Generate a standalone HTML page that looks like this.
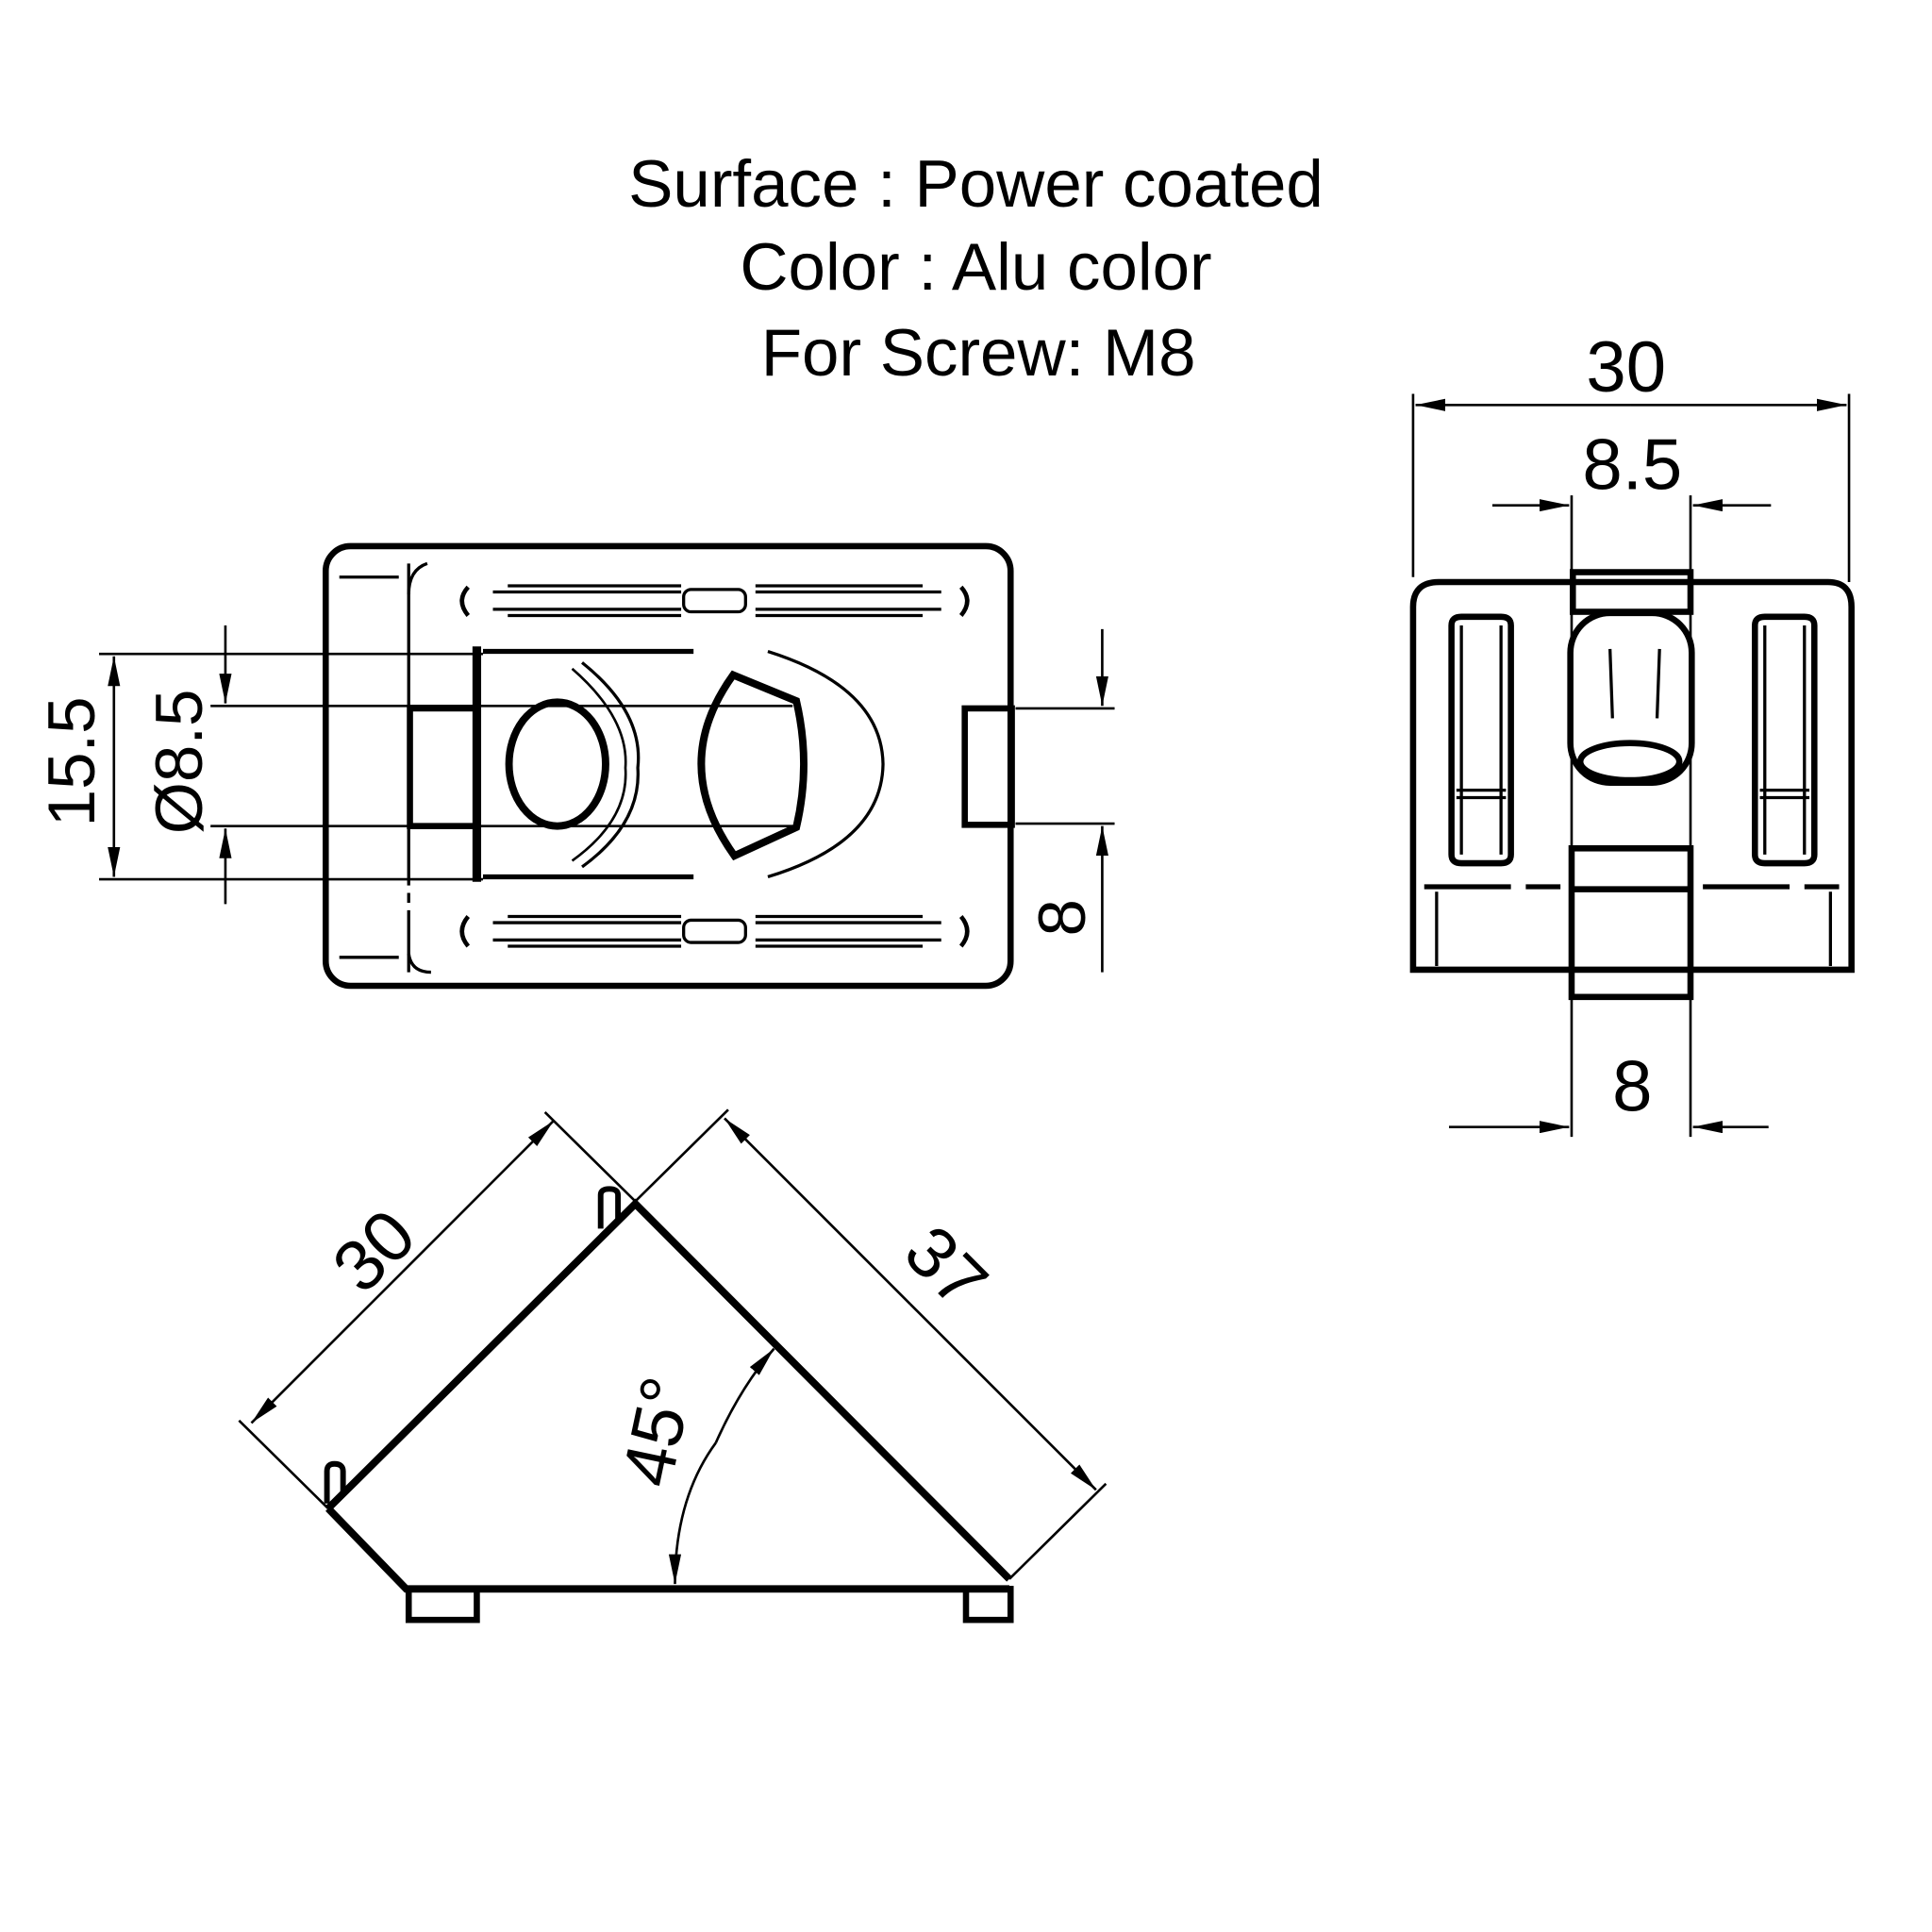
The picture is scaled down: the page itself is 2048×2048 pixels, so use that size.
<!DOCTYPE html>
<html><head><meta charset="utf-8"><style>
html,body{margin:0;padding:0;background:#fff;width:2048px;height:2048px;overflow:hidden}
svg{display:block}
text{font-family:"Liberation Sans",sans-serif;fill:#000}
</style></head><body>
<svg width="2048" height="2048" viewBox="0 0 1560 1560" xmlns="http://www.w3.org/2000/svg">
<defs>
<marker id="a" viewBox="0 0 24 10" refX="24" refY="5" markerWidth="24" markerHeight="10" markerUnits="userSpaceOnUse" orient="auto"><path d="M0,0 L24,5 L0,10 z" fill="#000"/></marker>
</defs>
<g text-anchor="middle" font-size="54">
<text x="788" y="167">Surface : Power coated</text>
<text x="788" y="234">Color : Alu color</text>
<text x="790" y="303">For Screw: M8</text>
</g>

<!-- TOP VIEW -->
<g fill="none" stroke="#000">
<rect x="263" y="441" width="553" height="355" rx="20" stroke-width="5"/>
<path d="M330,455 V785" stroke-width="2.5" stroke-dasharray="120 6 8 6"/>
<path d="M345,455 Q330,460 330,480 M330,770 Q332,785 348,785" stroke-width="2.5"/>
<path d="M274,466 H322 M274,773 H322" stroke-width="2.5"/>
<rect x="331" y="572" width="54" height="95" stroke-width="5"/>
<path d="M385,522 V712" stroke-width="7"/>
<ellipse cx="450" cy="617" rx="39" ry="50" stroke-width="6"/>
<path d="M470,535 Q520,575 515,620 Q518,665 470,700" stroke-width="2.5"/>
<path d="M462,540 Q508,580 505,620 Q508,662 462,695" stroke-width="2"/>
<path d="M592,545 L643,566 Q655,617 643,668 L593,691 Q540,617 592,545 z" stroke-width="6"/>
<path d="M620,526 Q712,555 713,617 Q712,680 620,708" stroke-width="2.5"/>
<path d="M390,526 H560 M390,708 H560" stroke-width="4"/>
<rect x="779" y="572" width="38" height="94" stroke-width="5"/>
<g stroke-width="2.5">
<path d="M398,478 H550 M398,492 H550 M410,473 H550 M410,497 H550 M610,478 H760 M610,492 H760 M610,473 H745 M610,497 H745"/>
<path d="M398,745 H550 M398,759 H550 M410,740 H550 M410,764 H550 M610,745 H760 M610,759 H760 M610,740 H745 M610,764 H745"/>
<rect x="552" y="476" width="50" height="18" rx="6"/>
<rect x="552" y="743" width="50" height="18" rx="6"/>
<path d="M378,474 Q368,485 378,497 M776,474 Q786,485 776,497 M378,740 Q368,752 378,764 M776,740 Q786,752 776,764" stroke-width="3.5"/>
</g>
<g stroke-width="2">
<path d="M80,528 H390 M80,710 H390 M170,570 H640 M170,667 H640"/>
<path d="M92,617 V530" marker-end="url(#a)"/><path d="M92,617 V708" marker-end="url(#a)"/>
<path d="M182,505 V568" marker-end="url(#a)"/><path d="M182,730 V669" marker-end="url(#a)"/>
<path d="M820,572 H900 M820,665 H900"/>
<path d="M890,508 V570" marker-end="url(#a)"/><path d="M890,785 V667" marker-end="url(#a)"/>
</g>
</g>
<g font-size="54" text-anchor="middle">
<text transform="translate(76,615) rotate(-90)">15.5</text>
<text transform="translate(163,615) rotate(-90)">Ø8.5</text>
<text transform="translate(876,741) rotate(-90)">8</text>
</g>

<!-- RIGHT VIEW -->
<g fill="none" stroke="#000">
<path d="M1141,783 V490 Q1141,470 1162,470 H1476 Q1495,470 1495,490 V783 Z" stroke-width="5"/>
<rect x="1270" y="462" width="95" height="32" stroke-width="5"/>
<rect x="1269" y="685" width="96" height="120" stroke-width="5"/>
<path d="M1269,718 H1365" stroke-width="5"/>
<path d="M1269,495 V700 M1365,495 V700" stroke-width="2"/>
<rect x="1268" y="495" width="98" height="137" rx="32" stroke-width="5"/>
<ellipse cx="1316" cy="615" rx="40" ry="15" stroke-width="5"/>
<path d="M1300,524 L1302,580 M1340,524 L1338,580" stroke-width="2.5"/>
<g stroke-width="5">
<path d="M1172,505 V690 Q1172,697 1180,697 H1212 Q1220,697 1220,690 V505 Q1220,498 1212,498 H1180 Q1172,498 1172,505"/>
<path d="M1417,505 V690 Q1417,697 1425,697 H1457 Q1465,697 1465,690 V505 Q1465,498 1457,498 H1425 Q1417,498 1417,505"/>
</g>
<g stroke-width="2.5">
<path d="M1180,505 V665 M1212,505 V665 M1176,638 H1216 M1176,644 H1216 M1180,648 V690 M1212,648 V690"/>
<path d="M1425,505 V665 M1457,505 V665 M1421,638 H1461 M1421,644 H1461 M1425,648 V690 M1457,648 V690"/>
<path d="M1160,720 V780 M1478,720 V780"/>
</g>
<path d="M1150,716 H1260 M1375,716 H1485" stroke-width="4" stroke-dasharray="70 12"/>
<g stroke-width="2">
<path d="M1141,318 V466 M1493,318 V470"/>
<path d="M1317,327 H1143" marker-end="url(#a)"/><path d="M1317,327 H1491" marker-end="url(#a)"/>
<path d="M1269,400 V462 M1365,400 V462"/>
<path d="M1205,408 H1267" marker-end="url(#a)"/><path d="M1430,408 H1367" marker-end="url(#a)"/>
<path d="M1269,806 V918 M1365,806 V918"/>
<path d="M1170,910 H1267" marker-end="url(#a)"/><path d="M1428,910 H1367" marker-end="url(#a)"/>
</g>
</g>
<g font-size="58" text-anchor="middle">
<text x="1313" y="316">30</text>
<text x="1318" y="395">8.5</text>
<text x="1318" y="897">8</text>
</g>

<!-- BOTTOM VIEW -->
<g fill="none" stroke="#000">
<path d="M265,1218 L513,972 L815,1275 M265,1218 L328,1283 H815" stroke-width="6"/>
<path d="M485,992 V965 Q485,960 492,960 Q499,960 499,965 V985" stroke-width="4.5"/>
<path d="M264,1214 V1188 Q264,1182 270,1182 Q277,1182 277,1188 V1205" stroke-width="4.5"/>
<rect x="330" y="1283" width="55" height="25" stroke-width="5"/>
<rect x="780" y="1283" width="36" height="25" stroke-width="5"/>
<g stroke-width="2">
<path d="M265,1218 L193,1147 M513,970 L440,898"/>
<path d="M325,1027 L203,1149" marker-end="url(#a)"/><path d="M325,1027 L447,905" marker-end="url(#a)"/>
<path d="M513,970 L588,896 M815,1275 L893,1198"/>
<path d="M735,1053 L585,903" marker-end="url(#a)"/><path d="M735,1053 L885,1203" marker-end="url(#a)"/>
<path d="M578,1165 Q545,1210 545,1279" marker-end="url(#a)"/>
<path d="M578,1165 Q598,1120 625,1089" marker-end="url(#a)"/>
</g>
</g>
<g font-size="58" text-anchor="middle">
<text transform="translate(316,1024) rotate(-45)">30</text>
<text transform="translate(750,1037) rotate(45)">37</text>
<text transform="translate(550,1160) rotate(-78)">45°</text>
</g>
</svg>
</body></html>
